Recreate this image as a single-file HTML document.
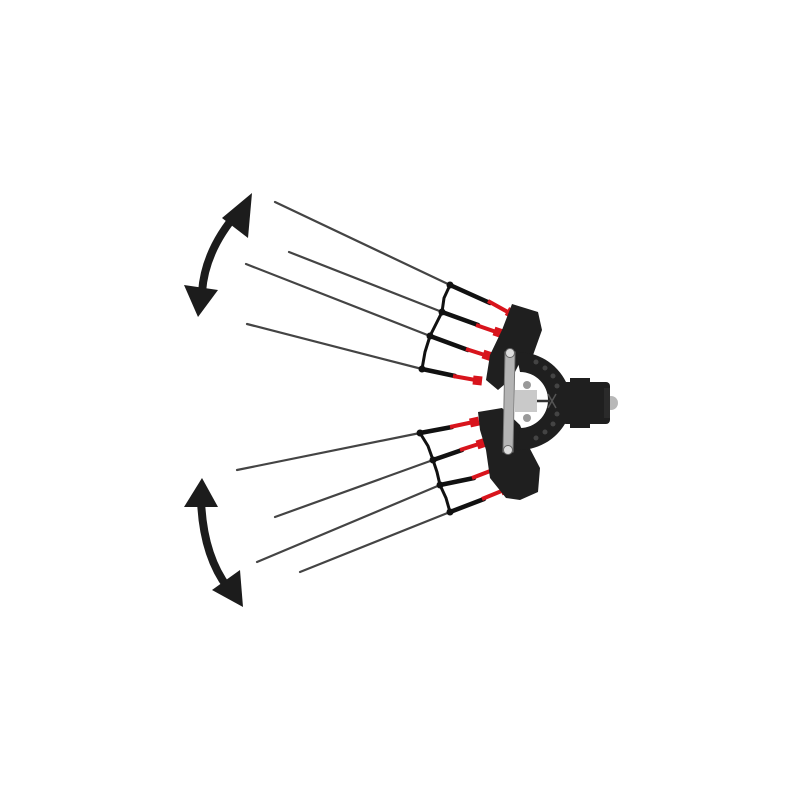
<!DOCTYPE html>
<html><head><style>html,body{margin:0;padding:0;background:#fff;}svg{display:block}</style></head>
<body>
<svg width="800" height="800" viewBox="0 0 800 800" xmlns="http://www.w3.org/2000/svg">
<rect width="800" height="800" fill="#fff"/>
<g fill="#1c1c1c" stroke="none">
  <path d="M238,212 Q205,250 202,292" fill="none" stroke="#1c1c1c" stroke-width="8"/>
  <polygon points="252,193 248,238 222,218"/>
  <polygon points="184,285 218,290 198,317"/>
  <path d="M201,500 Q203,555 228,588" fill="none" stroke="#1c1c1c" stroke-width="8"/>
  <polygon points="202,478 184,507 218,507"/>
  <polygon points="243,607 240,570 212,590"/>
</g>
<g stroke-linecap="round">
  <g stroke="#444" stroke-width="2.2">
    <line x1="275" y1="202" x2="450" y2="285"/>
    <line x1="289" y1="252" x2="442" y2="312"/>
    <line x1="246" y1="264" x2="430" y2="336"/>
    <line x1="247" y1="324" x2="422" y2="369"/>
    <line x1="237" y1="470" x2="420" y2="433"/>
    <line x1="275" y1="517" x2="433" y2="460"/>
    <line x1="257" y1="562" x2="440" y2="485"/>
    <line x1="300" y1="572" x2="450" y2="512"/>
  </g>
  <g stroke="#111" stroke-width="4.5">
    <line x1="450" y1="285" x2="490" y2="303"/>
    <line x1="442" y1="312" x2="478" y2="325"/>
    <line x1="430" y1="336" x2="468" y2="350"/>
    <line x1="422" y1="369" x2="455" y2="376"/>
    <line x1="420" y1="433" x2="452" y2="427"/>
    <line x1="433" y1="460" x2="462" y2="450"/>
    <line x1="440" y1="485" x2="474" y2="478"/>
    <line x1="450" y1="512" x2="484" y2="499"/>
  </g>
  <g stroke="#111" stroke-width="3" fill="none">
    <polyline points="450,285 444,298 442,312 436,324 430,336 425,352 422,369"/>
    <polyline points="420,433 428,446 433,460 437,472 440,485 446,498 450,512"/>
  </g>
  <g fill="#111">
    <circle cx="450" cy="285" r="3.5"/><circle cx="442" cy="312" r="3.5"/><circle cx="430" cy="336" r="3.5"/><circle cx="422" cy="369" r="3.5"/>
    <circle cx="420" cy="433" r="3.5"/><circle cx="433" cy="460" r="3.5"/><circle cx="440" cy="485" r="3.5"/><circle cx="450" cy="512" r="3.5"/>
  </g>
  <g stroke="#d8141c" stroke-width="4" stroke-linecap="butt">
    <line x1="488" y1="301" x2="515" y2="316"/>
    <line x1="476" y1="325" x2="502" y2="334"/>
    <line x1="466" y1="349" x2="491" y2="357"/>
    <line x1="453" y1="376" x2="481" y2="381"/>
    <line x1="450" y1="427" x2="478" y2="421"/>
    <line x1="460" y1="450" x2="485" y2="442"/>
    <line x1="472" y1="478" x2="498" y2="468"/>
    <line x1="482" y1="499" x2="509" y2="488"/>
  </g>
  <g stroke="#d8141c" stroke-width="9" stroke-linecap="butt">
    <line x1="507" y1="311" x2="516" y2="316"/>
    <line x1="494" y1="331" x2="503" y2="334"/>
    <line x1="483" y1="354" x2="492" y2="357"/>
    <line x1="473" y1="380" x2="482" y2="381"/>
    <line x1="470" y1="423" x2="479" y2="421"/>
    <line x1="477" y1="445" x2="486" y2="442"/>
    <line x1="490" y1="471" x2="499" y2="468"/>
    <line x1="501" y1="491" x2="510" y2="488"/>
  </g>
</g>
<g fill="#1f1f1f">
  <polygon points="512,304 538,312 542,330 532,358 520,362 512,378 498,390 486,380 490,355 502,330"/>
  <polygon points="478,412 502,408 520,425 528,445 540,468 538,492 520,500 506,498 490,478 486,450 480,430"/>
  <path d="M516,352 A54,54 0 0 1 566,382 L566,422 A54,54 0 0 1 516,450 L520,428 A24,24 0 0 0 520,372 Z"/>
  <rect x="562" y="382" width="48" height="42" rx="4"/>
  <rect x="570" y="378" width="20" height="6"/>
  <rect x="570" y="422" width="20" height="6"/>
</g>
<g fill="#444">
  <circle cx="545" cy="368" r="2.5"/><circle cx="553" cy="376" r="2.5"/><circle cx="557" cy="386" r="2.5"/>
  <circle cx="545" cy="432" r="2.5"/><circle cx="553" cy="424" r="2.5"/><circle cx="557" cy="414" r="2.5"/>
  <circle cx="536" cy="362" r="2.5"/><circle cx="536" cy="438" r="2.5"/>
</g>
<path d="M548,394 L556,408 M556,394 L548,408" stroke="#555" stroke-width="1.5"/>
<circle cx="611" cy="403" r="7" fill="#b8b8b8"/>
<rect x="604" y="388" width="6" height="30" fill="#2a2a2a"/>
<rect x="515" y="390" width="22" height="22" fill="#c9c9c9"/>
<line x1="537" y1="401" x2="550" y2="401" stroke="#333" stroke-width="2.5"/>
<circle cx="527" cy="385" r="4" fill="#999"/><circle cx="527" cy="418" r="4" fill="#999"/>
<polygon points="505,352 515,352 513,452 503,452" fill="#b4b4b4" stroke="#777" stroke-width="1"/>
<circle cx="510" cy="353" r="4.5" fill="#ddd" stroke="#666"/>
<circle cx="508" cy="450" r="4.5" fill="#ddd" stroke="#666"/>
</svg>
</body></html>
